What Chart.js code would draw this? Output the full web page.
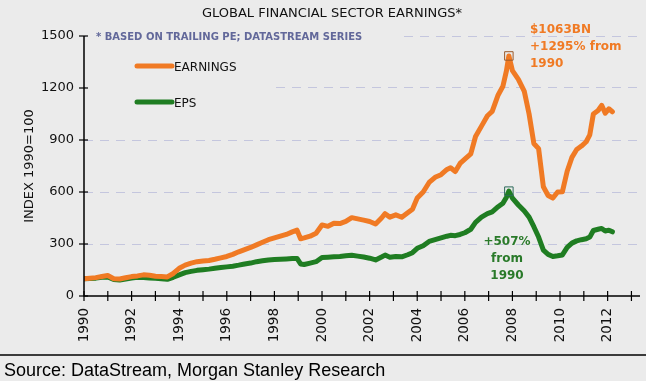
<!DOCTYPE html>
<html>
<head>
<meta charset="utf-8">
<script src="https://cdn.jsdelivr.net/npm/chart.js@4"></script>
<style>
html,body{margin:0;padding:0;background:#ebebeb;}
#wrap{width:646px;height:381px;position:relative;}
canvas{display:block;}
</style>
</head>
<body>
<div id="wrap"><canvas id="c" width="646" height="381"></canvas></div>
<script>
const chartTitle = "GLOBAL FINANCIAL SECTOR EARNINGS*";
const noteText = "* BASED ON TRAILING PE; DATASTREAM SERIES";
const yAxisTitle = "INDEX 1990=100";
const sourceText = "Source: DataStream, Morgan Stanley Research";
const seriesNames = ["EARNINGS", "EPS"];
const earningsNote = ["$1063BN", "+1295% from", "1990"];
const epsNote = ["+507%", "from", "1990"];
const yTicks = [0, 300, 600, 900, 1200, 1500];
const xTickYears = [1990,1991,1992,1993,1994,1995,1996,1997,1998,1999,2000,2001,2002,2003,2004,2005,2006,2007,2008,2009,2010,2011,2012,2013];

const dates = [1990.00,1990.25,1990.50,1990.75,1991.00,1991.25,1991.50,1991.75,1992.00,1992.25,1992.50,1992.75,1993.00,1993.25,1993.50,1993.75,
1994.00,1994.25,1994.50,1994.75,1995.00,1995.25,1995.50,1995.75,1996.00,1996.25,1996.50,1996.75,1997.00,1997.25,1997.50,1997.75,
1998.00,1998.25,1998.50,1998.75,1998.95,1999.10,1999.25,1999.50,1999.75,2000.00,2000.25,2000.50,2000.75,2001.00,2001.25,2001.50,2001.75,
2002.00,2002.25,2002.50,2002.65,2002.85,2003.10,2003.35,2003.60,2003.80,2004.00,2004.25,2004.50,2004.75,2005.00,2005.25,2005.40,2005.60,2005.80,
2006.00,2006.25,2006.45,2006.70,2006.95,2007.15,2007.40,2007.60,2007.75,2007.85,2008.00,2008.25,2008.50,2008.70,2008.90,2009.10,2009.30,2009.50,2009.70,2009.90,
2010.10,2010.30,2010.50,2010.70,2010.90,2011.10,2011.25,2011.40,2011.60,2011.75,2011.90,2012.05,2012.20];

const earnings = [100,103,106,112,118,100,98,105,112,116,122,120,114,112,110,130,
160,178,190,198,202,205,212,220,228,240,255,268,280,295,310,325,
335,345,355,370,380,330,335,345,362,410,402,420,418,430,452,445,438,
430,415,450,475,455,468,454,480,500,565,600,655,685,700,730,740,718,765,
790,820,920,980,1040,1065,1160,1210,1300,1385,1300,1250,1180,1050,880,850,630,580,565,600,
602,720,800,845,865,890,930,1050,1070,1100,1055,1080,1063];

const eps = [100,101,103,108,110,95,92,98,104,108,106,104,102,100,96,108,
122,135,142,148,152,155,160,164,168,172,178,185,190,198,203,208,
210,212,214,216,217,185,182,190,198,222,224,226,228,232,235,230,225,
218,208,225,236,223,228,226,238,250,275,290,315,325,335,345,350,348,355,
365,385,425,455,475,485,515,535,570,605,565,525,490,455,400,340,265,240,228,232,
237,280,305,318,325,330,340,378,385,390,375,380,370];

const BG = "#ebebeb";
const ORANGE = "#f07a24";
const GREEN = "#1f7d22";

function peakIndex(arr){let m=0;for(let i=1;i<arr.length;i++){if(arr[i]>arr[m])m=i;}return m;}
const ePeak = peakIndex(earnings), gPeak = peakIndex(eps);

const decor = {
  id: "decor",
  beforeDraw(chart){
    const ctx = chart.ctx;
    ctx.save();
    ctx.fillStyle = BG;
    ctx.fillRect(0,0,chart.width,chart.height);
    ctx.restore();
  },
  beforeDatasetsDraw(chart){
    const ctx = chart.ctx;
    ctx.save();
    ctx.fillStyle = BG;
    ctx.fillRect(86, 28, 313, 14);
    ctx.fillRect(86, 42, 188, 64);
    ctx.restore();
  },
  afterDraw(chart){
    const ctx = chart.ctx;
    const xs = chart.scales.x, ys = chart.scales.y;
    const ca = chart.chartArea;
    ctx.save();
    ctx.fillStyle = "#111";
    ctx.font = "13px 'DejaVu Sans'";
    ctx.textAlign = "center";
    ctx.textBaseline = "middle";
    ctx.fillText(chartTitle, 332, 14);
    ctx.fillStyle = "#62689a";
    ctx.font = "bold 10px 'DejaVu Sans'";
    ctx.textAlign = "left";
    ctx.fillText(noteText, 96, 37);
    const leg = [[ORANGE, seriesNames[0], 66],[GREEN, seriesNames[1], 102]];
    leg.forEach(l=>{
      ctx.strokeStyle = l[0];
      ctx.lineWidth = 5;
      ctx.lineCap = "round";
      ctx.beginPath(); ctx.moveTo(137, l[2]); ctx.lineTo(172, l[2]); ctx.stroke();
      ctx.fillStyle = "#111";
      ctx.font = "12px 'DejaVu Sans'";
      ctx.fillText(l[1], 174, l[2]+2);
    });
    ctx.save();
    ctx.translate(30, 166);
    ctx.rotate(-Math.PI/2);
    ctx.textAlign = "center";
    ctx.font = "13px 'DejaVu Sans'";
    ctx.fillStyle = "#111";
    ctx.fillText(yAxisTitle, 0, 0);
    ctx.restore();
    ctx.strokeStyle = "#000";
    ctx.lineWidth = 1.5;
    ctx.lineCap = "butt";
    ctx.beginPath();
    ctx.moveTo(ca.left, ys.getPixelForValue(1500)); ctx.lineTo(ca.left, ca.bottom);
    ctx.lineTo(ca.right, ca.bottom);
    ctx.stroke();
    ctx.lineWidth = 1.2;
    yTicks.forEach(v=>{
      const p = ys.getPixelForValue(v);
      ctx.beginPath(); ctx.moveTo(ca.left-5, p); ctx.lineTo(ca.left+4, p); ctx.stroke();
    });
    xTickYears.forEach(v=>{
      const p = xs.getPixelForValue(v);
      ctx.beginPath(); ctx.moveTo(p, ca.bottom-5); ctx.lineTo(p, ca.bottom+5); ctx.stroke();
    });
    ctx.font = "bold 12px 'DejaVu Sans'";
    ctx.fillStyle = ORANGE;
    ctx.textAlign = "left";
    earningsNote.forEach((t,i)=>ctx.fillText(t, 530, 30 + i*17));
    ctx.fillStyle = "#2a7a2a";
    ctx.textAlign = "center";
    epsNote.forEach((t,i)=>ctx.fillText(t, 507, 242 + i*17));
    ctx.strokeStyle = "#000";
    ctx.lineWidth = 1.5;
    ctx.beginPath(); ctx.moveTo(0, 355); ctx.lineTo(646, 355); ctx.stroke();
    ctx.fillStyle = "#000";
    ctx.textAlign = "left";
    ctx.textBaseline = "alphabetic";
    ctx.font = "18px 'Liberation Sans'";
    ctx.fillText(sourceText, 4, 376);
    ctx.restore();
  }
};

const ptRadius = (peak)=>(c)=> c.dataIndex===peak ? 6 : 0;

new Chart(document.getElementById("c"), {
  type: "line",
  data: {
    datasets: [
      { label: seriesNames[0], data: dates.map((d,i)=>({x:d, y:earnings[i]})),
        borderColor: ORANGE, borderWidth: 5, tension: 0, fill: false,
        borderJoinStyle: "round", borderCapStyle: "round",
        pointStyle: "rect", pointRadius: ptRadius(ePeak), pointHoverRadius: 0,
        pointBorderColor: "#9a5a2a", pointBorderWidth: 1, pointBackgroundColor: "rgba(0,0,0,0)" },
      { label: seriesNames[1], data: dates.map((d,i)=>({x:d, y:eps[i]})),
        borderColor: GREEN, borderWidth: 5, tension: 0, fill: false,
        borderJoinStyle: "round", borderCapStyle: "round",
        pointStyle: "rect", pointRadius: ptRadius(gPeak), pointHoverRadius: 0,
        pointBorderColor: "#2d6a5a", pointBorderWidth: 1, pointBackgroundColor: "rgba(0,0,0,0)" }
    ]
  },
  options: {
    responsive: false,
    animation: false,
    events: [],
    layout: { padding: { left: 0, right: 6, top: 36, bottom: 0 } },
    plugins: { legend: { display: false }, tooltip: { enabled: false }, title: { display: false } },
    scales: {
      x: {
        type: "linear", min: 1990, max: 2013.36,
        afterFit(s){ s.height = 85; },
        afterBuildTicks(s){ s.ticks = xTickYears.filter(y=>y%2===0 && y<=2012).map(v=>({value:v})); },
        border: { display: false },
        grid: { display: false, drawTicks: false },
        ticks: { minRotation: 90, maxRotation: 90, autoSkip: false, padding: 12,
          color: "#111", font: { family: "DejaVu Sans", size: 13.5 },
          callback: v => String(v) }
      },
      y: {
        min: 0, max: 1500,
        afterFit(s){ s.width = 84; },
        afterBuildTicks(s){ s.ticks = yTicks.map(v=>({value:v})); },
        border: { display: false, dash: [9, 7] },
        grid: { color: (c)=> c.tick.value===0 ? "rgba(0,0,0,0)" : "#c4c6de", lineWidth: 1, drawTicks: false },
        ticks: { padding: 10, color: "#111", font: { family: "DejaVu Sans", size: 13 },
          callback: v => String(v) }
      }
    }
  },
  plugins: [decor]
});
</script>
</body>
</html>
